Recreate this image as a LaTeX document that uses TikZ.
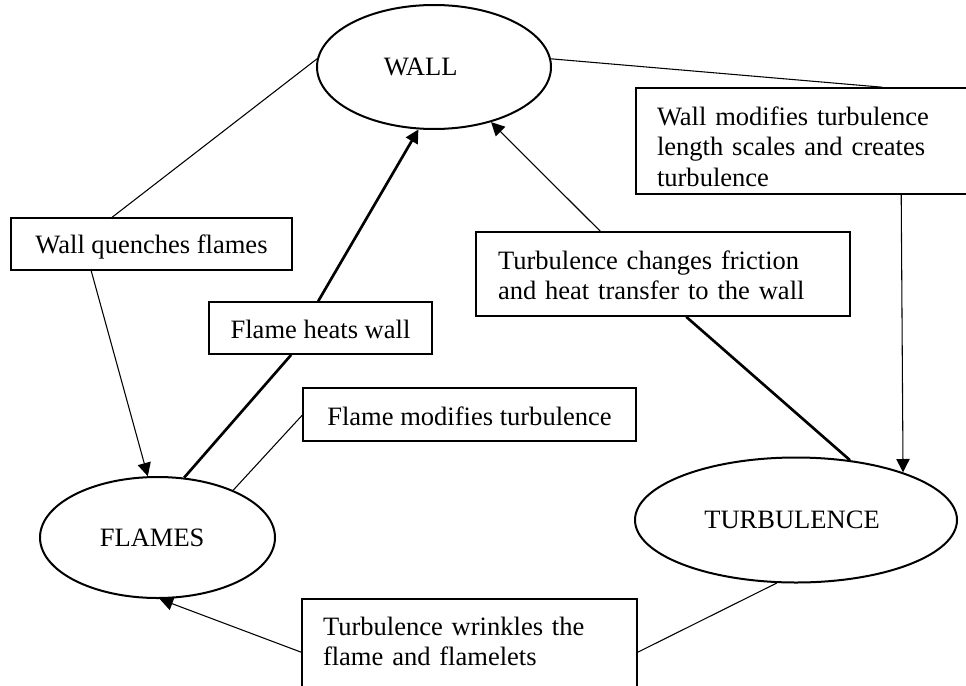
\documentclass[tikz,border=0pt]{standalone}
\usepackage{fontspec}
\setmainfont{Liberation Serif}
\usetikzlibrary{arrows.meta,shapes.geometric}
\begin{document}
\begin{tikzpicture}[x=0.75pt,y=-0.75pt,
  every node/.style={font=\fontsize{19.9}{23}\selectfont},
  oval/.style={draw, ellipse, line width=1.5pt, inner sep=0pt},
  lbox/.style={draw, rectangle, line width=1.2pt, inner ysep=0pt, align=left},
  conn/.style={line width=0.8pt},
  heavy/.style={line width=2pt},
  arr/.style={-{Triangle[length=10pt,width=10pt]}},
]
\useasboundingbox (0,0) rectangle (966,685);

% ellipses
\node[oval, minimum width=175.5pt, minimum height=93pt] (wall) at (434,67) {WALL\hspace*{20pt}};
\node[oval, minimum width=176.25pt, minimum height=90.75pt] (flames) at (157.5,537.5) {FLAMES\hspace*{8pt}};
\node[oval, minimum width=241.5pt, minimum height=93.75pt] (turb) at (796,520) {TURBULENCE\hspace*{6pt}};

% boxes
\node[lbox, minimum width=210.75pt, minimum height=39pt, text height=15pt, text depth=1.5pt] (quench) at (151.5,244) {Wall quenches flames};
\node[lbox, minimum width=167.25pt, minimum height=39pt, text height=15pt, text depth=0pt] (heats) at (320.5,328) {Flame heats wall};
\node[lbox, minimum width=249.75pt, minimum height=39.75pt, text height=16pt, text depth=0.25pt] (flamemod) at (469.5,414.5) {Flame modifies turbulence};
\node[lbox, inner xsep=16.5pt, text width=247.5pt, minimum height=63pt, text height=10pt, text depth=17.5pt] (friction) at (663,274) {Turbulence changes friction\\and heat transfer to the wall};
\node[lbox, inner xsep=15.75pt, text width=230.25pt, minimum height=79.5pt, text height=5pt, text depth=29pt] (wallmod) at (810.5,141) {Wall modifies turbulence\\length scales and creates\\turbulence};
\node[lbox, inner xsep=15.75pt, text width=219.75pt, minimum height=68.25pt, text height=5pt, text depth=19.25pt] (wrinkles) at (469.5,644.5) {Turbulence wrinkles the\\flame and flamelets};

% connectors
\draw[conn] (wall.176) -- ([xshift=76.5pt]quench.north west);
\draw[conn, arr] ([xshift=60.75pt]quench.south west) -- (flames.99);
\draw[heavy] (flames.66) -- ([xshift=62.25pt]heats.south west);
\draw[heavy, arr] ([xshift=82.5pt]heats.north west) -- (wall.256);
\draw[conn] (flames.32) -- ([yshift=-21pt]flamemod.north west);
\draw[conn, arr] ([xshift=93.75pt]friction.north west) -- (wall.316);
\draw[heavy] ([xshift=158.25pt]friction.south west) -- (turb.48);
\draw[conn] (wall.4) -- ([xshift=185.25pt]wallmod.north west);
\draw[conn, arr] ([xshift=199.5pt]wallmod.south west) -- (turb.24);
\draw[conn] (turb.253) -- ([yshift=-40.5pt]wrinkles.north east);
\draw[conn, arr] ([yshift=-40.5pt]wrinkles.north west) -- (flames.272);
\end{tikzpicture}
\end{document}
